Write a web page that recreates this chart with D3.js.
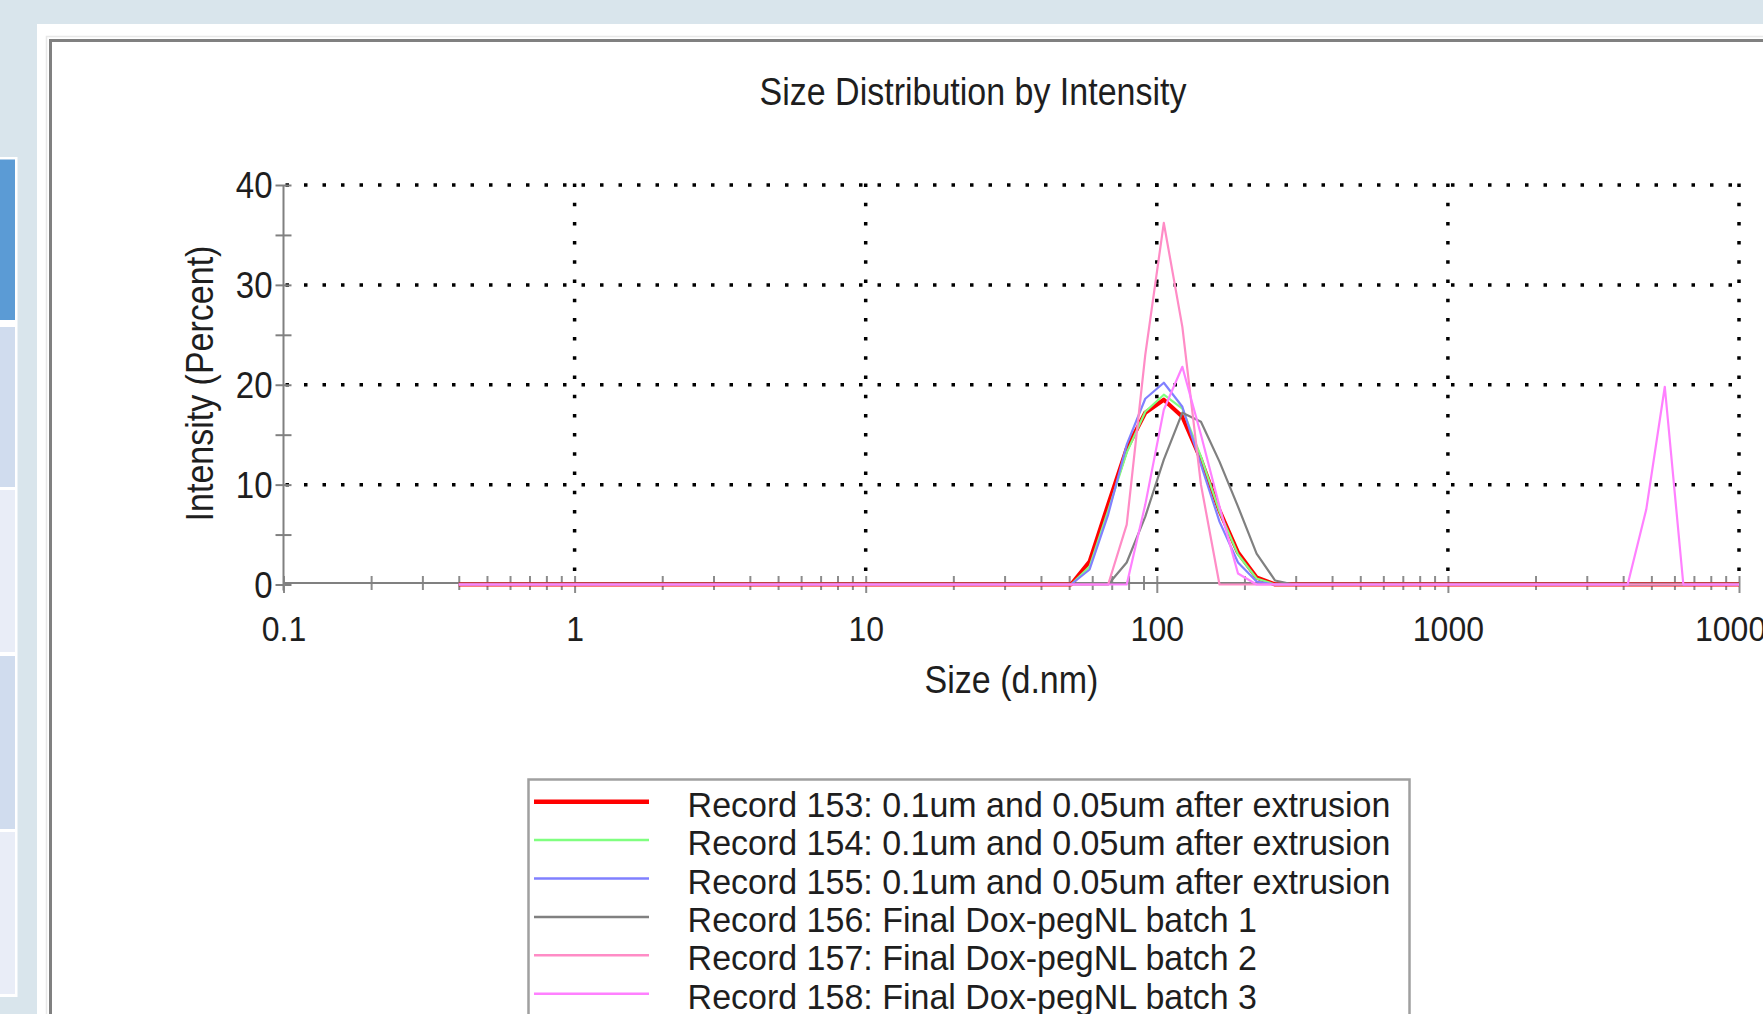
<!DOCTYPE html>
<html>
<head>
<meta charset="utf-8">
<script src="https://cdn.jsdelivr.net/npm/d3@7"></script>
<style>
body { margin: 0; overflow: hidden; background: #d9e5ec; }
text { font-family: "Liberation Sans", Arial, sans-serif; fill: #1e1e1e; }
</style>
</head>
<body>
<svg id="chart"></svg>
<script>
// Malvern size bins (d.nm), 0.4 .. 10000
var sizes = [0.4, 0.4632, 0.5365, 0.6213, 0.7195, 0.8332, 0.9649, 1.117, 1.294, 1.499,
	1.736, 2.01, 2.328, 2.696, 3.122, 3.615, 4.187, 4.849, 5.615, 6.503,
	7.531, 8.721, 10.1, 11.7, 13.54, 15.69, 18.17, 21.04, 24.36, 28.21,
	32.67, 37.84, 43.82, 50.75, 58.77, 68.06, 78.82, 91.28, 105.7, 122.4,
	141.8, 164.2, 190.1, 220.2, 255, 295.3, 342, 396.1, 458.7, 531.2,
	615.1, 712.4, 825, 955.4, 1106, 1281, 1484, 1718, 1990, 2305,
	2669, 3091, 3580, 4145, 4801, 5560, 6439, 7456, 8635, 10000];

var rec153 = [0,0,0,0,0,0,0,0,0,0, 0,0,0,0,0,0,0,0,0,0, 0,0,0,0,0,0,0,0,0,0,
	0,0,0,0,2.3,8.0,13.6,17.2,18.5,16.8, 12.5,7.4,3.2,0.7,0,0,0,0,0,0,
	0,0,0,0,0,0,0,0,0,0, 0,0,0,0,0,0,0,0,0,0];
var rec154 = [0,0,0,0,0,0,0,0,0,0, 0,0,0,0,0,0,0,0,0,0, 0,0,0,0,0,0,0,0,0,0,
	0,0,0,0,1.8,7.4,13.2,17.3,19.0,17.6, 12.8,7.3,3.0,0.6,0,0,0,0,0,0,
	0,0,0,0,0,0,0,0,0,0, 0,0,0,0,0,0,0,0,0,0];
var rec155 = [0,0,0,0,0,0,0,0,0,0, 0,0,0,0,0,0,0,0,0,0, 0,0,0,0,0,0,0,0,0,0,
	0,0,0,0,1.5,7.0,14.0,18.6,20.2,17.8, 12.0,6.3,2.2,0.3,0,0,0,0,0,0,
	0,0,0,0,0,0,0,0,0,0, 0,0,0,0,0,0,0,0,0,0];
var rec156 = [0,0,0,0,0,0,0,0,0,0, 0,0,0,0,0,0,0,0,0,0, 0,0,0,0,0,0,0,0,0,0,
	0,0,0,0,0,0,2.2,6.8,12.5,17.2, 16.3,12.3,7.8,3.1,0.4,0,0,0,0,0,
	0,0,0,0,0,0,0,0,0,0, 0,0,0,0,0,0,0,0,0,0];
var rec157 = [0,0,0,0,0,0,0,0,0,0, 0,0,0,0,0,0,0,0,0,0, 0,0,0,0,0,0,0,0,0,0,
	0,0,0,0,0,0,6.0,23.0,36.2,25.8, 10.0,0,0,0,0,0,0,0,0,0,
	0,0,0,0,0,0,0,0,0,0, 0,0,0,0,0,0,0,0,0,0];
var rec158 = [0,0,0,0,0,0,0,0,0,0, 0,0,0,0,0,0,0,0,0,0, 0,0,0,0,0,0,0,0,0,0,
	0,0,0,0,0,0,0,8.0,17.5,21.8, 15.0,7.8,1.1,0,0,0,0,0,0,0,
	0,0,0,0,0,0,0,0,0,0, 0,0,0,0,7.5,19.8,0,0,0,0];

var names = ["Record 153: 0.1um and 0.05um after extrusion",
	"Record 154: 0.1um and 0.05um after extrusion",
	"Record 155: 0.1um and 0.05um after extrusion",
	"Record 156: Final Dox-pegNL batch 1",
	"Record 157: Final Dox-pegNL batch 2",
	"Record 158: Final Dox-pegNL batch 3"];
var colors = ["#ff0000", "#80ff80", "#8080ff", "#808080", "#ff8cc6", "#ff80ff"];

var xDecades = [0.1, 1, 10, 100, 1000, 10000];
var xTickLabels = ["0.1", "1", "10", "100", "1000", "10000"];
var yMajor = [0, 10, 20, 30, 40];
var yMinor = [0, 5, 10, 15, 20, 25, 30, 35, 40];

var cfg = {
	width: 1763,
	height: 1014,
	left: 283.5,
	right: 1739,
	top: 185,
	bottom: 584.5
};

var series = [rec153, rec154, rec155, rec156, rec157, rec158].map(function(vals, i) {
	return {
		name: names[i],
		color: colors[i],
		width: i === 0 ? 4.2 : 2.2,
		points: vals.map(function(v, j) { return { size: sizes[j], v: v }; })
	};
});

var svg = d3.select("#chart")
	.attr("width", cfg.width)
	.attr("height", cfg.height);

// page chrome
svg.append("rect").attr("width", cfg.width).attr("height", cfg.height).attr("fill", "#d9e5ec");
svg.append("rect").attr("x", 0).attr("y", 157).attr("width", 17.5).attr("height", 840).attr("fill", "#ffffff");
var cells = [[159.5, 320, "#5b9bd5"], [327, 487, "#d0dcee"], [490, 652, "#e9edf7"], [656, 829, "#d0dcee"], [832, 994, "#e9edf7"]];
svg.selectAll("rect.cell").data(cells).enter().append("rect")
	.attr("class", "cell")
	.attr("x", 0).attr("y", function(d) { return d[0]; })
	.attr("width", 15).attr("height", function(d) { return d[1] - d[0]; })
	.attr("fill", function(d) { return d[2]; });

svg.append("rect").attr("x", 37).attr("y", 24).attr("width", 1800).attr("height", 1100).attr("fill", "#ffffff");
svg.append("rect").attr("x", 46.5).attr("y", 36.5).attr("width", 1800).attr("height", 1100)
	.attr("fill", "none").attr("stroke", "#e8e8e8").attr("stroke-width", 1.5);
svg.append("rect").attr("x", 50.5).attr("y", 40.5).attr("width", 1800).attr("height", 1100)
	.attr("fill", "#ffffff").attr("stroke", "#808080").attr("stroke-width", 3);

svg.append("text")
	.attr("transform", "translate(973,105) scale(1,1.12)")
	.attr("text-anchor", "middle")
	.style("font-size", "34px")
	.text("Size Distribution by Intensity");

var x = d3.scaleLog().domain([0.1, 10000]).range([cfg.left, cfg.right]);
var y = d3.scaleLinear().domain([0, 40]).range([cfg.bottom, cfg.top]);

var plot = svg.append("g");

// dotted grid
plot.selectAll("line.vgrid").data(xDecades.slice(1)).enter().append("line")
	.attr("class", "vgrid")
	.attr("x1", function(d) { return x(d); }).attr("x2", function(d) { return x(d); })
	.attr("y1", y(40) - 1.5).attr("y2", y(0))
	.attr("stroke", "#000").attr("stroke-width", 3.5).attr("stroke-dasharray", "3.5,15.7");
plot.selectAll("line.hgrid").data(yMajor.slice(1)).enter().append("line")
	.attr("class", "hgrid")
	.attr("x1", x(0.1) + 2).attr("x2", x(10000))
	.attr("y1", function(d) { return y(d); }).attr("y2", function(d) { return y(d); })
	.attr("stroke", "#000").attr("stroke-width", 3.5).attr("stroke-dasharray", "3.5,15");

// axes
var yAxis = d3.axisLeft(y)
	.tickValues(yMinor)
	.tickSize(8)
	.tickSizeOuter(0)
	.tickFormat(function(d) { return yMajor.indexOf(d) > -1 ? d : ""; });
var gy = plot.append("g").attr("transform", "translate(" + x(0.1) + ",0)").call(yAxis);
gy.select(".domain").remove();
gy.selectAll(".tick line").attr("x1", 8).attr("stroke", "#808080").attr("stroke-width", 2);
gy.selectAll(".tick text")
	.attr("x", null).attr("dy", null)
	.attr("transform", "translate(-11,12.5) scale(1,1.13)")
	.style("font-size", "33px").style("fill", "#1e1e1e");

var xAxis = d3.axisBottom(x)
	.tickValues(x.ticks())
	.tickSize(7)
	.tickSizeOuter(0)
	.tickFormat(function(d) {
		var k = xDecades.indexOf(d);
		return k > -1 ? xTickLabels[k] : "";
	});
var gx = plot.append("g").attr("transform", "translate(0," + (cfg.bottom - 1.5) + ")").call(xAxis);
gx.select(".domain").remove();
gx.selectAll(".tick line")
	.attr("y1", -7)
	.attr("y2", function(d) { return xDecades.indexOf(d) > -1 ? 10 : 7; })
	.attr("stroke", "#8c8c8c").attr("stroke-width", 2);
gx.selectAll(".tick text")
	.attr("y", null).attr("dy", null)
	.attr("transform", "translate(0,57.5) scale(1,1.12)")
	.style("font-size", "32px").style("fill", "#1e1e1e");

plot.append("line")
	.attr("x1", x(0.1)).attr("x2", x(0.1))
	.attr("y1", y(40)).attr("y2", y(0) + 6)
	.attr("stroke", "#808080").attr("stroke-width", 2);
plot.append("line")
	.attr("x1", x(0.1)).attr("x2", x(10000))
	.attr("y1", y(0) - 1.5).attr("y2", y(0) - 1.5)
	.attr("stroke", "#808080").attr("stroke-width", 2);

// data lines
var line = d3.line()
	.x(function(d) { return x(d.size); })
	.y(function(d) { return y(d.v); });

plot.selectAll("path.rec").data(series).enter().append("path")
	.attr("class", "rec")
	.attr("d", function(d) { return line(d.points); })
	.attr("fill", "none")
	.attr("stroke", function(d) { return d.color; })
	.attr("stroke-width", function(d) { return d.width; })
	.attr("stroke-linejoin", "round");

// axis titles
svg.append("text")
	.attr("transform", "translate(1011.5,693) scale(1,1.16)")
	.attr("text-anchor", "middle")
	.style("font-size", "34px")
	.text("Size (d.nm)");
svg.append("text")
	.attr("transform", "translate(213,383.5) rotate(-90) scale(1,1.15)")
	.attr("text-anchor", "middle")
	.style("font-size", "34px")
	.text("Intensity (Percent)");

// legend
var legend = svg.append("g");
legend.append("rect")
	.attr("x", 528.5).attr("y", 779.5).attr("width", 881).attr("height", 400)
	.attr("fill", "#ffffff").attr("stroke", "#a0a0a0").attr("stroke-width", 2.5);
var item = legend.selectAll("g.item").data(series).enter().append("g")
	.attr("class", "item")
	.attr("transform", function(d, i) { return "translate(0," + (801.7 + i * 38.4) + ")"; });
item.append("line")
	.attr("x1", 534).attr("x2", 649)
	.attr("stroke", function(d) { return d.color; })
	.attr("stroke-width", function(d, i) { return i === 0 ? 4.5 : 2.5; });
item.append("text")
	.attr("transform", "translate(687.6,15) scale(1,1.03)")
	.style("font-size", "34px")
	.text(function(d) { return d.name; });
</script>
</body>
</html>
